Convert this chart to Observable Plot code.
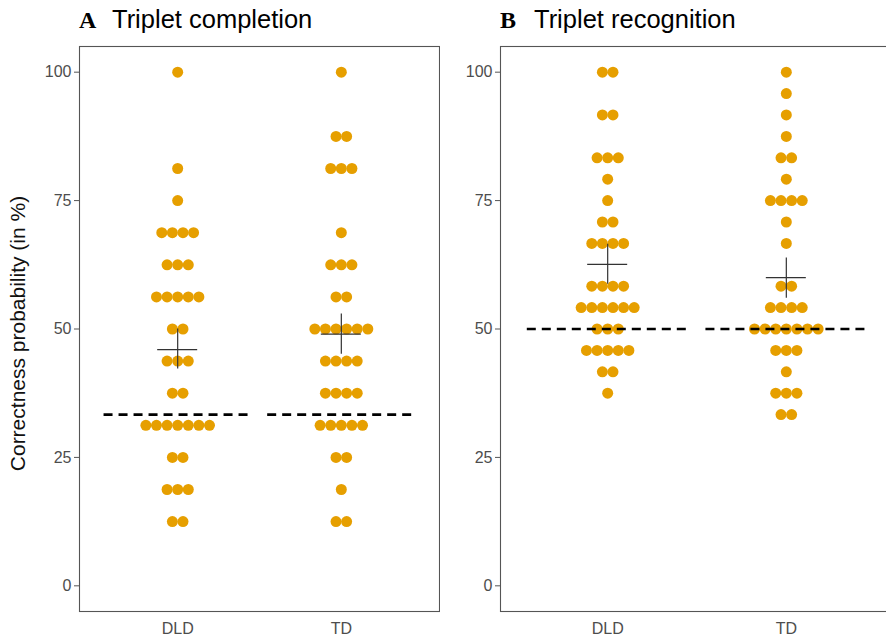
<!DOCTYPE html>
<html>
<head>
<meta charset="utf-8">
<script src="https://cdn.jsdelivr.net/npm/d3@7"></script>
<script src="https://cdn.jsdelivr.net/npm/@observablehq/plot@0.6"></script>
<style>
  body { margin: 0; background: #fff; }
  #wrap { position: relative; width: 886px; height: 638px; overflow: hidden; background: #fff;
          font-family: "Liberation Sans", Arial, sans-serif; }
  .panel { position: absolute; top: 0; }
  .title { position: relative; height: 40px; }
  .title .letter { position: absolute; top: 8px; font-family: "Liberation Serif", "Times New Roman", serif;
                   font-weight: bold; font-size: 24px; line-height: 24px; color: #000; }
  .title .text { position: absolute; top: 7px; font-size: 25.5px; line-height: 25px; color: #000; white-space: nowrap; }
</style>
</head>
<body>
<div id="wrap">
  <div class="panel" id="panelA" style="left:0;width:445px;">
    <div class="title"><span class="letter" style="left:79px;">A</span><span class="text" style="left:112px;">Triplet completion</span></div>
  </div>
  <div class="panel" id="panelB" style="left:440px;width:453px;">
    <div class="title"><span class="letter" style="left:60px;">B</span><span class="text" style="left:94px;">Triplet recognition</span></div>
  </div>
</div>
<script>
// ---- data ----
const groups = ["DLD", "TD"];
const yTicks = [0, 25, 50, 75, 100];
const yLabel = "Correctness probability (in %)";

// Panel A: triplet completion (number of children at each score)
const completionLevels = [12.5, 18.75, 25, 31.25, 37.5, 43.75, 50, 56.25, 62.5, 68.75, 75, 81.25, 87.5, 93.75, 100];
const completionDLD = [2, 3, 2, 7, 2, 3, 2, 5, 3, 4, 1, 1, 0, 0, 1];
const completionTD  = [2, 1, 2, 5, 4, 4, 6, 2, 3, 1, 0, 3, 2, 0, 1];
const completionChance = 33.33;
const completionEst = [46.0, 49.0];
const completionLo  = [42.2, 45.1];
const completionHi  = [50.0, 52.9];

// Panel B: triplet recognition
const recognitionLevels = [33.33, 37.5, 41.67, 45.83, 50, 54.17, 58.33, 62.5, 66.67, 70.83, 75, 79.17, 83.33, 87.5, 91.67, 95.83, 100];
const recognitionDLD = [0, 1, 2, 5, 3, 6, 4, 0, 4, 2, 1, 1, 3, 0, 2, 0, 2];
const recognitionTD  = [2, 3, 1, 3, 7, 4, 2, 0, 1, 1, 4, 1, 2, 1, 1, 1, 1];
const recognitionChance = 50;
const recognitionEst = [62.6, 60.0];
const recognitionLo  = [58.7, 56.0];
const recognitionHi  = [66.5, 63.8];

const FONT = "'Liberation Sans', Arial, sans-serif";

function panel({levels, counts, chance, est, lo, hi, width, marginLeft, marginRight, showLabel}) {
  const height = 598, marginTop = 6, marginBottom = 27;
  const unitPx = (width - marginLeft - marginRight) / 2.2;
  const step = 10.6 / unitPx;
  const dots = [];
  groups.forEach((g, gi) => counts[gi].forEach((n, li) => {
    for (let i = 0; i < n; i++) dots.push({group: g, x: gi + 1 + (i - (n - 1) / 2) * step, y: levels[li]});
  }));
  const chanceRows = groups.map((g, gi) => ({x1: gi + 1 - 0.45, x2: gi + 1 + 0.45, y: chance}));
  const cross = groups.map((g, gi) => ({x: gi + 1, est: est[gi], lo: lo[gi], hi: hi[gi], hw: 20 / unitPx}));
  const marks = [
    Plot.frame({stroke: "#555", strokeWidth: 1.1}),
    Plot.axisY({ticks: yTicks, tickSize: 5, tickPadding: 3, label: null, stroke: "#555", fill: "#4d4d4d", fontSize: 16}),
    Plot.axisX({ticks: [1, 2], tickFormat: d => groups[d - 1], tickSize: 0, tickPadding: 11, label: null, fill: "#4d4d4d", fontSize: 16}),
    Plot.dot(dots, {x: "x", y: "y", r: 5.5, fill: "#E69F00", stroke: "none"}),
    Plot.ruleY(chanceRows, {x1: "x1", x2: "x2", y: "y", stroke: "#000", strokeWidth: 2.6, strokeDasharray: "9,6"}),
    Plot.ruleX(cross, {x: "x", y1: "lo", y2: "hi", stroke: "#333", strokeWidth: 1.2}),
    Plot.ruleY(cross, {x1: d => d.x - d.hw, x2: d => d.x + d.hw, y: "est", stroke: "#333", strokeWidth: 1.2})
  ];
  if (showLabel) {
    marks.push(Plot.text([yLabel], {frameAnchor: "left", rotate: -90, dx: -69, dy: 4.5, lineAnchor: "top",
      textAnchor: "middle", text: d => d, fontSize: 21, fill: "#111"}));
  }
  return Plot.plot({
    width, height, marginTop, marginBottom, marginLeft, marginRight,
    style: {fontFamily: FONT, background: "#fff", overflow: "visible"},
    x: {domain: [0.4, 2.6], axis: null},
    y: {domain: [-5, 105], axis: null},
    marks
  });
}

document.getElementById("panelA").appendChild(panel({
  levels: completionLevels, counts: [completionDLD, completionTD], chance: completionChance,
  est: completionEst, lo: completionLo, hi: completionHi,
  width: 445, marginLeft: 79, marginRight: 6, showLabel: true
}));
document.getElementById("panelB").appendChild(panel({
  levels: recognitionLevels, counts: [recognitionDLD, recognitionTD], chance: recognitionChance,
  est: recognitionEst, lo: recognitionLo, hi: recognitionHi,
  width: 453, marginLeft: 60, marginRight: 0, showLabel: false
}));
</script>
</body>
</html>
